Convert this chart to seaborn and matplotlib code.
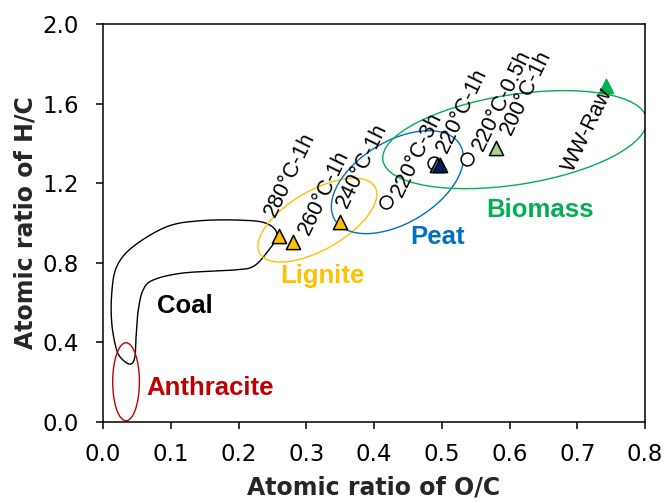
import numpy as np
import pandas as pd
import matplotlib
matplotlib.use("Agg")
import matplotlib.pyplot as plt
import seaborn as sns
from matplotlib.patches import Ellipse
from matplotlib.transforms import ScaledTranslation

# ---------------- data ----------------
sample = ["280°C-1h", "260°C-1h", "240°C-1h", "220°C-3h", "220°C-1h",
          "220°C-1h", "220°C-1h", "220°C-0.5h", "200°C-1h", "WW-Raw"]
kind = ["tri", "tri", "tri", "circ", "circ", "tri", "tri", "circ", "tri", "tri"]
oc_ratio = [0.26, 0.28, 0.35, 0.417, 0.488, 0.493, 0.497, 0.537, 0.58, 0.743]
hc_ratio = [0.934, 0.905, 1.006, 1.103, 1.301, 1.291, 1.291, 1.32, 1.375, 1.69]
fill_colors = ["#FFC000", "#FFC000", "#FFC000", "white", "white",
               "#2E75B6", "#002060", "white", "#A9D18E", "#00B050"]
edge_colors = ["black"] * 9 + ["#00B050"]

# point labels
label_text = ["280°C-1h", "260°C-1h", "240°C-1h", "220°C-3h", "220°C-1h",
              "220°C-0.5h", "200°C-1h", "WW-Raw"]
label_index = [0, 1, 2, 3, 5, 7, 8, 9]
label_ha = ["left"] * 7 + ["right"]
label_dx = [-6.9, 7.7, 1.3, 8.5, 3.7, 7.7, 7.0, 1.0]
label_dy = [14.9, 5.8, 10.6, 4.6, 9.8, 7.0, 10.6, -2.8]

xticks = [0.0, 0.1, 0.2, 0.3, 0.4, 0.5, 0.6, 0.7, 0.8]
yticks = [0.0, 0.4, 0.8, 1.2, 1.6, 2.0]

# regions (ellipses): center in data, width/height in inches, angle
region_names = ["Anthracite", "Lignite", "Peat", "Biomass"]
region_colors = ["#C00000", "#FFC000", "#0070C0", "#00B050"]
region_cx = [0.0339, 0.3164, 0.4344, 0.6077]
region_cy = [0.201, 1.014, 1.205, 1.419]
region_w = [0.267, 1.33, 1.46, 2.67]
region_h = [0.78, 0.59, 0.82, 0.90]
region_angle = [0, 30, 31, 8.9]

region_label_text = ["Coal", "Anthracite", "Lignite", "Peat", "Biomass"]
region_label_color = ["black", "#C00000", "#FFC000", "#0070C0", "#00B050"]
region_label_x = [0.121, 0.158, 0.3245, 0.4934, 0.6445]
region_label_y = [0.582, 0.172, 0.733, 0.929, 1.065]

# coal outline (closed smooth curve through these points)
coal_x = [0.257, 0.241, 0.202, 0.143, 0.094, 0.044, 0.020, 0.0128, 0.0128,
          0.020, 0.0295, 0.041, 0.047, 0.0487, 0.052, 0.059, 0.074, 0.118,
          0.192, 0.221, 0.241]
coal_y = [0.938, 0.998, 1.014, 1.011, 0.981, 0.880, 0.779, 0.647, 0.496,
          0.361, 0.310, 0.290, 0.327, 0.427, 0.562, 0.662, 0.713, 0.748,
          0.763, 0.780, 0.848]

df = pd.DataFrame({"sample": sample, "kind": kind, "OC": oc_ratio, "HC": hc_ratio,
                   "fill": fill_colors, "edge": edge_colors})

# ---------------- figure ----------------
sns.set_style("ticks")
plt.rcParams["font.family"] = ["DejaVu Sans"]
fig = plt.figure(figsize=(6.65, 5.03), dpi=100)
ax = fig.add_axes([0.155, 0.1616, 0.815, 0.7904])

# coal curve (Catmull-Rom closed)
P = np.column_stack([coal_x, coal_y])
n = len(P)
pts = []
for i in range(n):
    p0, p1, p2, p3 = P[(i - 1) % n], P[i], P[(i + 1) % n], P[(i + 2) % n]
    for t in np.linspace(0, 1, 20, endpoint=False):
        t2, t3 = t * t, t * t * t
        pts.append(0.5 * ((2 * p1) + (-p0 + p2) * t + (2 * p0 - 5 * p1 + 4 * p2 - p3) * t2
                          + (-p0 + 3 * p1 - 3 * p2 + p3) * t3))
pts.append(pts[0])
pts = np.array(pts)
ax.plot(pts[:, 0], pts[:, 1], color="black", lw=1.0, zorder=2)

for name, col, cx, cy, w, h, a in zip(region_names, region_colors, region_cx, region_cy,
                                      region_w, region_h, region_angle):
    e = Ellipse((0, 0), w, h, angle=a, fill=False, edgecolor=col, lw=1.0,
                transform=fig.dpi_scale_trans + ScaledTranslation(cx, cy, ax.transData),
                zorder=2)
    ax.add_patch(e)

for i, row in df.iterrows():
    mk = "^" if row["kind"] == "tri" else "o"
    s = 105 if row["kind"] == "tri" else 85
    sns.scatterplot(x=[row["OC"]], y=[row["HC"]], marker=mk, s=s, color=row["fill"],
                    edgecolor=row["edge"], linewidth=1.1, ax=ax, zorder=3 + i, legend=False)

for txt, idx, ha, dx, dy in zip(label_text, label_index, label_ha, label_dx, label_dy):
    ax.annotate(txt, (oc_ratio[idx], hc_ratio[idx]), xytext=(dx, dy),
                textcoords="offset points", rotation=64, rotation_mode="anchor",
                ha=ha, va="center", fontsize=15.5, family="Liberation Sans",
                color="black", zorder=20)

for txt, col, x, y in zip(region_label_text, region_label_color, region_label_x, region_label_y):
    ax.text(x, y, txt, color=col, fontsize=18.5, fontweight="bold",
            family="Liberation Sans", ha="center", va="center", zorder=20)

ax.set_xlim(0, 0.8)
ax.set_ylim(0, 2.0)
ax.set_xticks(xticks)
ax.set_yticks(yticks)
ax.set_xticklabels([f"{v:.1f}" for v in xticks])
ax.set_yticklabels([f"{v:.1f}" for v in yticks])
ax.tick_params(axis="both", direction="out", length=5, width=1.1,
               labelsize=16.5, color="black", labelcolor="black")
ax.tick_params(axis="x", pad=10)
ax.tick_params(axis="y", pad=12.5)
for sp in ax.spines.values():
    sp.set_visible(True)
    sp.set_linewidth(1.1)
    sp.set_color("black")
ax.set_xlabel("Atomic ratio of O/C", fontsize=17, fontweight="bold", labelpad=7)
ax.set_ylabel("Atomic ratio of H/C", fontsize=17, fontweight="bold", labelpad=3)
ax.grid(False)

fig.savefig("out.png", dpi=100)
